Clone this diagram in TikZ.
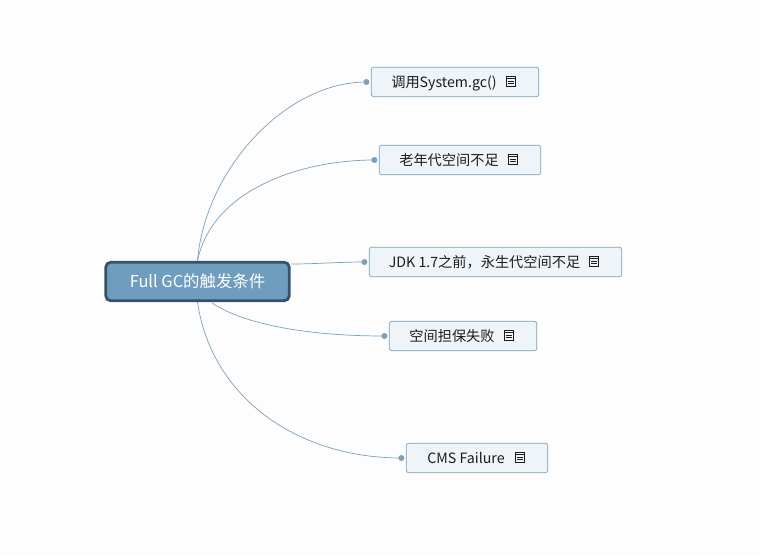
\documentclass[tikz,border=0pt]{standalone}
\usepackage{fontspec}
\setmainfont{Noto Sans CJK SC}
\usepackage{xcolor}
\usetikzlibrary{positioning}
\definecolor{pagewhite}{RGB}{253, 253, 253}
\definecolor{rootblue}{RGB}{111, 157, 190}
\definecolor{rootnavy}{RGB}{52, 83, 107}
\definecolor{topicfill}{RGB}{239, 244, 248}
\definecolor{topicline}{RGB}{122, 160, 188}
\definecolor{inkblack}{RGB}{28, 28, 28}
\newcommand{\notegap}{\hspace*{22pt}}

\begin{document}
\begin{tikzpicture}[
    x=1pt, y=-1pt,
    node distance=1.3pt,
    root/.style={rectangle, draw=rootnavy, fill=rootblue, line width=2.8pt, rounded corners=5pt, align=center, text=white, font=\fontsize{16.4}{19}\selectfont, text height=13pt, text depth=1pt, minimum width=183.5pt, minimum height=38.5pt},
    topic/.style={rectangle, draw=topicline, fill=topicfill, line width=0.7pt, rounded corners=2.5pt, align=center, text=inkblack, font=\fontsize{14.2}{16}\selectfont, text height=11pt, text depth=0.6pt, inner xsep=19pt, inner ysep=0pt, minimum height=29.5pt},
    dot/.style={circle, fill=topicline, inner sep=0pt, minimum size=6pt},
    noteicon/.style={rectangle, draw=inkblack, line width=0.8pt, inner sep=0pt, minimum width=8.5pt, minimum height=10pt, path picture={
        \draw[inkblack, line width=1.1pt] ([yshift=-2.6pt]path picture bounding box.north west) -- ([yshift=-2.6pt]path picture bounding box.north east);
        \draw[inkblack, line width=0.7pt] ([xshift=1.5pt,yshift=-5pt]path picture bounding box.north west) -- ([xshift=-1.5pt,yshift=-5pt]path picture bounding box.north east);
        \draw[inkblack, line width=0.7pt] ([xshift=1.5pt,yshift=-7.4pt]path picture bounding box.north west) -- ([xshift=-1.5pt,yshift=-7.4pt]path picture bounding box.north east);
    }},
    branch/.style={draw=topicline, line width=0.7pt}
]

\fill [pagewhite] (0,0) rectangle (760,555);
\useasboundingbox (0,0) rectangle (760,555);

% Nodes
\node [root] (fullgc) at (197.5,281.5) {Full GC的触发条件};
\node [topic, minimum width=167.5pt] (callgc) at (455,82) {调用System.gc()\notegap};
\node [topic, minimum width=161.5pt] (oldgen) at (460,160) {老年代空间不足\notegap};
\node [topic, minimum width=252.5pt] (permgen) at (495.5,262) {JDK 1.7之前，永生代空间不足\notegap};
\node [topic, minimum width=147.5pt] (promo) at (463,336) {空间担保失败\notegap};
\node [topic, minimum width=141.5pt] (cms) at (477,458) {CMS Failure\notegap};

% Dots
\node [dot, left=of callgc] (dotcall) {};
\node [dot, left=of oldgen] (dotold) {};
\node [dot, left=of permgen] (dotperm) {};
\node [dot, left=of promo] (dotpromo) {};
\node [dot, left=of cms] (dotcms) {};

% Note icons
\node [noteicon] (notecall) at ([xshift=-28pt,yshift=1pt]callgc.east) {};
\node [noteicon] (noteold) at ([xshift=-28pt,yshift=1pt]oldgen.east) {};
\node [noteicon] (noteperm) at ([xshift=-28pt,yshift=1pt]permgen.east) {};
\node [noteicon] (notepromo) at ([xshift=-28pt,yshift=1pt]promo.east) {};
\node [noteicon] (notecms) at ([xshift=-28pt,yshift=1pt]cms.east) {};

% Connectors
\coordinate (hubeast) at (291,264);
\coordinate (hubsouth) at (212,303);
\path [branch] (fullgc.north) .. controls (205,170) and (285,82) .. (dotcall.center);
\path [branch] (fullgc.north) .. controls (212,190) and (300,160) .. (dotold.center);
\path [branch] (hubeast) .. controls (315,264) and (340,262) .. (dotperm.center);
\path [branch] (hubsouth) .. controls (245,325) and (310,336) .. (dotpromo.center);
\path [branch] (fullgc.south) .. controls (212,400) and (300,458) .. (dotcms.center);

\end{tikzpicture}
\end{document}
